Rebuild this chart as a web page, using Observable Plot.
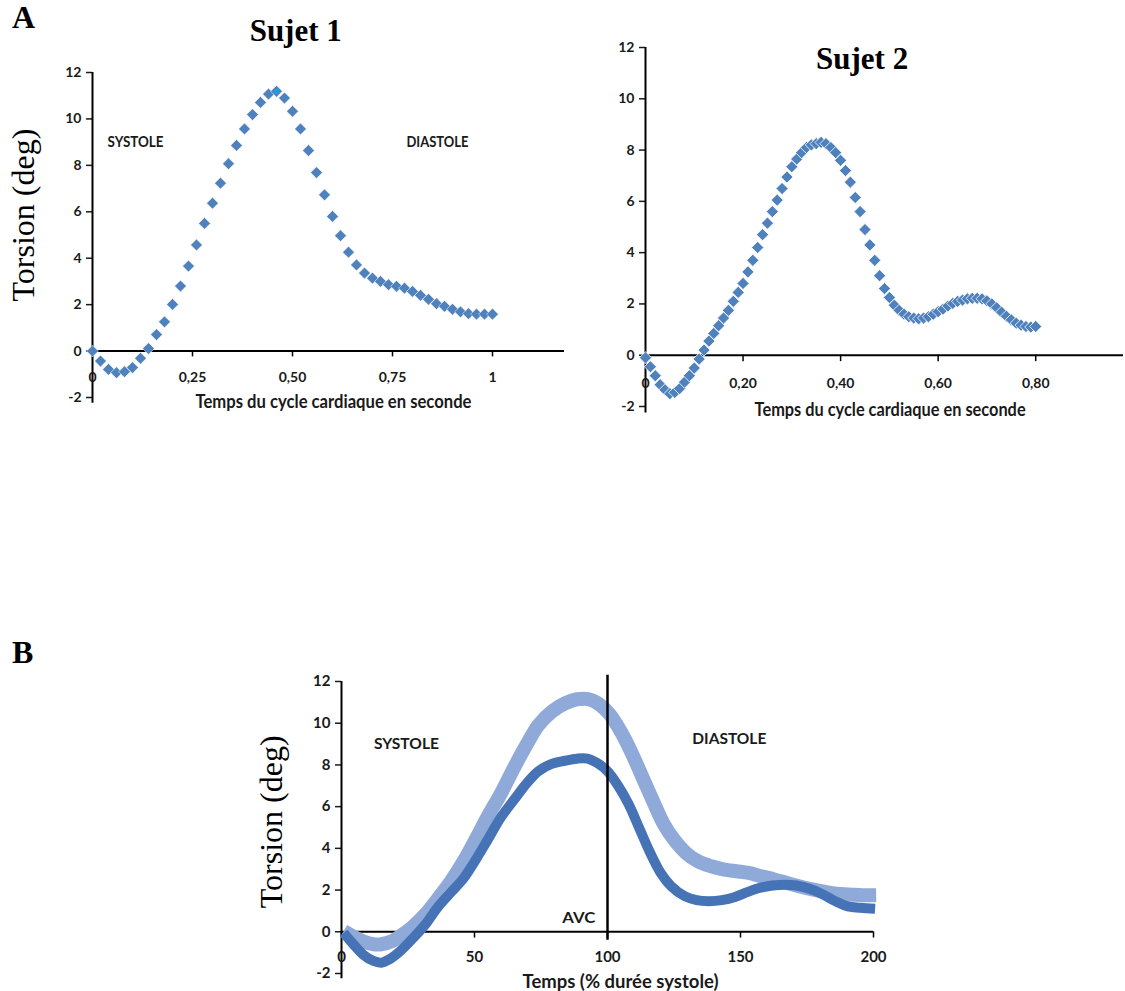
<!DOCTYPE html>
<html>
<head>
<meta charset="utf-8">
<script src="https://cdn.jsdelivr.net/npm/d3@7"></script>
<script src="https://cdn.jsdelivr.net/npm/@observablehq/plot@0.6"></script>
<style>
  html, body { margin: 0; padding: 0; background: #fff; }
  #root { position: relative; width: 1125px; height: 991px; background: #fff; overflow: hidden; }
  .panel { position: absolute; }
  .lab { position: absolute; font-family: 'Liberation Serif', 'Times New Roman', serif; font-weight: bold; font-size: 32px; line-height: 1; color: #000; }
</style>
</head>
<body>
<div id="root">
  <div id="p1" class="panel" style="left:0px;top:0px"></div>
  <div id="p2" class="panel" style="left:560px;top:0px"></div>
  <div id="p3" class="panel" style="left:240px;top:640px"></div>
  <div class="lab" style="left:12px;top:1px">A</div>
  <div class="lab" style="left:12px;top:636px">B</div>
</div>
<script>
// ---------- DATA ----------
// Sujet 1 (time in s, torsion in deg)
const s1Time = [0,0.02,0.04,0.06,0.08,0.10,0.12,0.14,0.16,0.18,0.20,0.22,0.24,0.26,0.28,0.30,0.32,0.34,0.36,0.38,0.40,0.42,0.44,0.46,0.48,0.50,0.52,0.54,0.56,0.58,0.60,0.62,0.64,0.66,0.68,0.70,0.72,0.74,0.76,0.78,0.80,0.82,0.84,0.86,0.88,0.90,0.92,0.94,0.96,0.98,1.00];
const s1Torsion = [0,-0.43,-0.79,-0.93,-0.89,-0.71,-0.31,0.11,0.71,1.26,2.01,2.8,3.66,4.57,5.5,6.37,7.23,8.07,8.86,9.57,10.19,10.71,11.07,11.19,10.9,10.33,9.57,8.64,7.69,6.73,5.8,4.97,4.26,3.71,3.36,3.14,3.0,2.86,2.79,2.71,2.57,2.4,2.23,2.04,1.93,1.8,1.69,1.61,1.59,1.59,1.59];
const s1PeakTime = [0.46];
const s1PeakTorsion = [11.19];

// Sujet 2
const s2Time = [0,0.01,0.02,0.03,0.04,0.05,0.06,0.07,0.08,0.09,0.10,0.11,0.12,0.13,0.14,0.15,0.16,0.17,0.18,0.19,0.20,0.21,0.22,0.23,0.24,0.25,0.26,0.27,0.28,0.29,0.30,0.31,0.32,0.33,0.34,0.35,0.36,0.37,0.38,0.39,0.40,0.41,0.42,0.43,0.44,0.45,0.46,0.47,0.48,0.49,0.50,0.51,0.52,0.53,0.54,0.55,0.56,0.57,0.58,0.59,0.60,0.61,0.62,0.63,0.64,0.65,0.66,0.67,0.68,0.69,0.70,0.71,0.72,0.73,0.74,0.75,0.76,0.77,0.78,0.79,0.80];
const s2Torsion = [-0.1,-0.45,-0.8,-1.15,-1.35,-1.5,-1.45,-1.3,-1.05,-0.8,-0.5,-0.15,0.2,0.55,0.85,1.15,1.45,1.75,2.1,2.45,2.8,3.25,3.7,4.2,4.7,5.15,5.6,6.05,6.5,6.95,7.35,7.65,7.9,8.1,8.2,8.25,8.3,8.25,8.1,7.9,7.6,7.2,6.75,6.15,5.6,4.9,4.3,3.7,3.1,2.6,2.25,1.95,1.75,1.6,1.5,1.45,1.42,1.45,1.5,1.6,1.7,1.8,1.92,2.02,2.1,2.15,2.2,2.22,2.22,2.2,2.12,2.0,1.85,1.68,1.52,1.38,1.25,1.17,1.12,1.1,1.12];

// Panel B: time as % of systole duration
const bLightPct = [0.8,4,8,12,15,19,23,27,32,36,41,46,50.5,55,60,65,69.5,74,79,84,88.5,93,97,101,105,109,113,117,121,125,129.5,134,139,144,148.5,153,158,163,167.5,172,177,182,186,191,196,201];
const bLightTorsion = [0.03,-0.2,-0.45,-0.6,-0.6,-0.45,-0.13,0.27,0.9,1.55,2.4,3.4,4.45,5.53,6.65,7.9,8.95,9.9,10.55,10.95,11.15,11.15,10.9,10.4,9.6,8.6,7.45,6.3,5.2,4.42,3.78,3.38,3.14,2.98,2.9,2.82,2.66,2.5,2.34,2.18,2.03,1.91,1.83,1.79,1.75,1.75];
const bDarkPct = [0.8,4,8,12,15,18,22,27,32,36,41,46,50.5,55,60,65,69.5,74,79,84,88.5,92.5,96,100,104,108,112,116,120,124,129,133.5,138,143,148,152.5,157,162,166.7,171,176,181,185.6,190,195,200.6];
const bDarkTorsion = [-0.05,-0.53,-1.08,-1.4,-1.48,-1.32,-0.93,-0.29,0.43,1.15,1.87,2.58,3.46,4.42,5.5,6.35,7.1,7.7,8.05,8.2,8.3,8.3,8.1,7.7,7.0,6.1,4.95,3.8,2.82,2.18,1.71,1.52,1.47,1.52,1.67,1.9,2.1,2.22,2.26,2.22,2.06,1.79,1.47,1.23,1.15,1.1];

// Tick values and labels
const yTickValues = [-2,0,2,4,6,8,10,12];
const s1XTickValues = [0,0.25,0.5,0.75,1];
const s1XTickLabels = ["0","0,25","0,50","0,75","1"];
const s2XTickValues = [0,0.2,0.4,0.6,0.8];
const s2XTickLabels = ["0","0,20","0,40","0,60","0,80"];
const bXTickValues = [0,50,100,150,200];
const bXTickLabels = ["0","50","100","150","200"];

// ---------- STYLE ----------
const SANS = "Lato, 'Open Sans', 'DejaVu Sans', sans-serif";
const SERIF = "'Liberation Serif', 'Times New Roman', serif";
const BLUE = "#4F81BD";
const INK = "#1a1a1a";

function axesMarks(xmax, xTicks, xLabels, tickLen, labelDy, fs) {
  return [
    Plot.axisY(yTickValues, {tickSize: 6, tickPadding: 5, fontSize: fs, fontWeight: "bold", fontFamily: SANS, color: INK, strokeWidth: 1.5, label: null, tickFormat: d => String(d)}),
    Plot.ruleX([0], {y1: -2.25, y2: 12, stroke: "#000", strokeWidth: 2}),
    Plot.ruleY([0], {x1: 0, x2: xmax, stroke: "#000", strokeWidth: 2}),
    Plot.ruleX(xTicks, {y1: 0, y2: -tickLen, stroke: "#000", strokeWidth: 1.5}),
    Plot.text(xTicks, {x: d => d, y: 0, dy: labelDy, text: (d, i) => xLabels[i], fontSize: fs, fontWeight: "bold", fontFamily: SANS, fill: INK})
  ];
}

// condense texts to the widths of the narrow original font
function fit(svg, widths) {
  svg.querySelectorAll("text").forEach(t => {
    const w = widths[t.textContent];
    if (w) { t.setAttribute("textLength", w); t.setAttribute("lengthAdjust", "spacingAndGlyphs"); }
  });
}

const s1 = s1Time.map((t, i) => ({t, v: s1Torsion[i]}));
const s2 = s2Time.map((t, i) => ({t, v: s2Torsion[i]}));
const bLight = bLightPct.map((p, i) => ({p, v: bLightTorsion[i]}));
const bDark = bDarkPct.map((p, i) => ({p, v: bDarkTorsion[i]}));

// ---------- PANEL A : Sujet 1 ----------
const p1 = Plot.plot({
  width: 590, height: 420,
  marginLeft: 92, marginRight: 26, marginTop: 72, marginBottom: 23,
  x: {domain: [0, 1.18], axis: null},
  y: {domain: [-2, 12], axis: null},
  style: {background: "transparent", overflow: "visible"},
  marks: [
    ...axesMarks(1.18, s1XTickValues, s1XTickLabels, 0.25, 26, 14),
    Plot.dot(s1, {x: "t", y: "v", symbol: "diamond2", r: 5.3, fill: BLUE, stroke: "#fff", strokeWidth: 0.5}),
    Plot.dot(s1PeakTime.map((t, i) => ({t, v: s1PeakTorsion[i]})), {x: "t", y: "v", symbol: "square", r: 2.6, fill: "#1AA0E6"}),
    Plot.text(["Sujet 1"], {x: 0.508, y: 13.8, fontSize: 31, fontWeight: "bold", fontFamily: SERIF, fill: "#000"}),
    Plot.text(["Torsion (deg)"], {x: -0.172, y: 5.86, rotate: -90, fontSize: 32, fontFamily: SERIF, fill: "#000"}),
    Plot.text(["SYSTOLE"], {x: 0.1075, y: 9.0, fontSize: 15, fontWeight: "bold", fontFamily: SANS, fill: INK}),
    Plot.text(["DIASTOLE"], {x: 0.8625, y: 9.0, fontSize: 15, fontWeight: "bold", fontFamily: SANS, fill: INK}),
    Plot.text(["Temps du cycle cardiaque en seconde"], {x: 0.6025, y: -2.22, fontSize: 18, fontWeight: "bold", fontFamily: SANS, fill: INK})
  ]
});
fit(p1, {"SYSTOLE": 56, "DIASTOLE": 62, "Temps du cycle cardiaque en seconde": 276});
document.getElementById("p1").appendChild(p1);

// ---------- PANEL A : Sujet 2 ----------
const p2 = Plot.plot({
  width: 565, height: 430,
  marginLeft: 85, marginRight: 2, marginTop: 47, marginBottom: 24,
  x: {domain: [0, 0.98], axis: null},
  y: {domain: [-2, 12], axis: null},
  style: {background: "transparent", overflow: "visible"},
  marks: [
    ...axesMarks(0.98, s2XTickValues, s2XTickLabels, 0.25, 28, 14),
    Plot.dot(s2, {x: "t", y: "v", symbol: "diamond2", r: 5.5, fill: BLUE, stroke: "#fff", strokeWidth: 0.8}),
    Plot.text(["Sujet 2"], {x: 0.444, y: 11.56, fontSize: 31, fontWeight: "bold", fontFamily: SERIF, fill: "#000"}),
    Plot.text(["Temps du cycle cardiaque en seconde"], {x: 0.5015, y: -2.15, fontSize: 18, fontWeight: "bold", fontFamily: SANS, fill: INK})
  ]
});
fit(p2, {"Temps du cycle cardiaque en seconde": 271});
document.getElementById("p2").appendChild(p2);

// ---------- PANEL B ----------
const p3 = Plot.plot({
  width: 660, height: 350,
  marginLeft: 101, marginRight: 27, marginTop: 41, marginBottom: 17,
  x: {domain: [0, 200], axis: null},
  y: {domain: [-2, 12], axis: null},
  style: {background: "transparent", overflow: "visible"},
  marks: [
    ...axesMarks(200, bXTickValues, bXTickLabels, 0.3, 25, 15),
    Plot.line(bLight, {x: "p", y: "v", stroke: "#8FAAD9", strokeWidth: 14, curve: "catmull-rom", strokeLinecap: "butt"}),
    Plot.line(bDark, {x: "p", y: "v", stroke: "#4673B5", strokeWidth: 10, curve: "catmull-rom", strokeLinecap: "butt"}),
    Plot.ruleX([100], {y1: -0.4, y2: 12.3, stroke: "#000", strokeWidth: 2.5}),
    Plot.text(["Torsion (deg)"], {x: -26.1, y: 5.27, rotate: -90, fontSize: 32, fontFamily: SERIF, fill: "#000"}),
    Plot.text(["SYSTOLE"], {x: 24.4, y: 9.0, fontSize: 15, fontWeight: "bold", fontFamily: SANS, fill: INK}),
    Plot.text(["DIASTOLE"], {x: 145.8, y: 9.25, fontSize: 15, fontWeight: "bold", fontFamily: SANS, fill: INK}),
    Plot.text(["AVC"], {x: 89.2, y: 0.67, fontSize: 15, fontWeight: "bold", fontFamily: SANS, fill: INK}),
    Plot.text(["Temps (% durée systole)"], {x: 104.9, y: -2.44, fontSize: 18, fontWeight: "bold", fontFamily: SANS, fill: INK})
  ]
});
fit(p3, {"SYSTOLE": 65, "DIASTOLE": 74, "AVC": 33, "Temps (% durée systole)": 196});
document.getElementById("p3").appendChild(p3);
</script>
</body>
</html>
